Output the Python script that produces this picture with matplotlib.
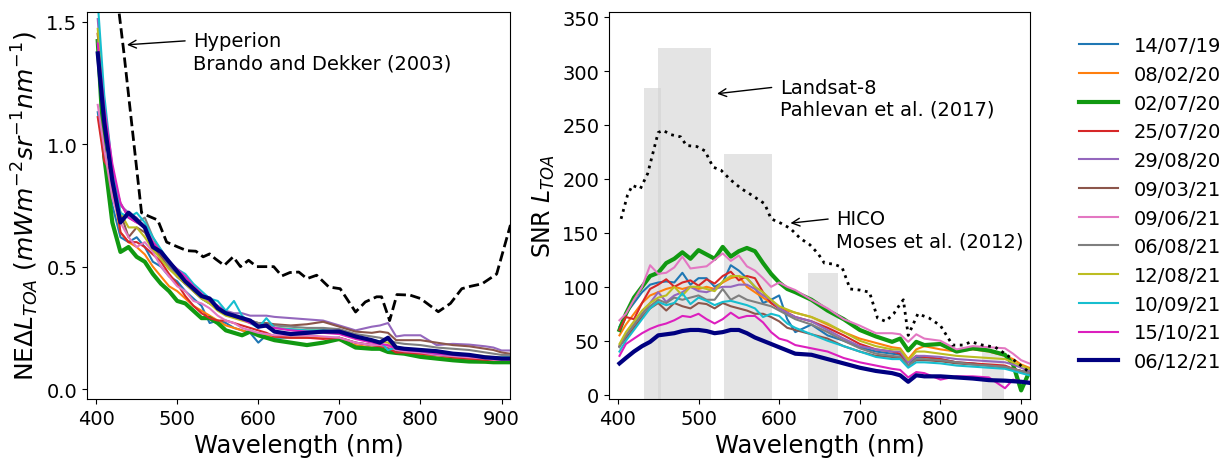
import matplotlib

matplotlib.use("Agg")
import matplotlib.pyplot as plt

# wavelength grid (nm) shared by all the acquisitions
wl = [402, 410, 420, 430, 440, 450, 460, 470, 480, 490, 500, 510, 520, 530, 540,
      550, 560, 570, 580, 590, 600, 610, 620, 640, 660, 680, 700, 720, 740, 750,
      760, 770, 780, 800, 820, 840, 860, 880, 890, 900, 910]

dates = ["14/07/19", "08/02/20", "02/07/20", "25/07/20", "29/08/20", "09/03/21",
         "09/06/21", "06/08/21", "12/08/21", "10/09/21", "15/10/21", "06/12/21"]
colors = ["#1f77b4", "#ff7f0e", "#119911", "#d62728", "#9467bd", "#8c564b",
          "#e377c2", "#7f7f7f", "#bcbd22", "#17becf", "#dc1fbe", "#000080"]
widths = [1.5, 1.5, 3.0, 1.5, 1.5, 1.5, 1.5, 1.5, 1.5, 1.5, 1.5, 3.0]

# NEdL_TOA per date
ne_blue = [1.13, 0.95, 0.75, 0.62, 0.60, 0.62, 0.58, 0.52, 0.50, 0.46, 0.44, 0.40, 0.37, 0.34, 0.27,
           0.28, 0.27, 0.25, 0.24, 0.23, 0.19, 0.22, 0.21, 0.21, 0.21, 0.21, 0.21, 0.19, 0.18, 0.175,
           0.17, 0.15, 0.15, 0.14, 0.14, 0.13, 0.125, 0.12, 0.12, 0.12, 0.12]
ne_orange = [1.45, 1.10, 0.82, 0.64, 0.60, 0.58, 0.55, 0.50, 0.46, 0.42, 0.40, 0.37, 0.34, 0.32, 0.30,
             0.28, 0.26, 0.25, 0.24, 0.23, 0.22, 0.22, 0.215, 0.21, 0.21, 0.21, 0.20, 0.18, 0.17, 0.17,
             0.16, 0.15, 0.15, 0.14, 0.13, 0.125, 0.12, 0.115, 0.115, 0.115, 0.115]
ne_green = [1.42, 0.95, 0.68, 0.56, 0.58, 0.54, 0.52, 0.47, 0.43, 0.40, 0.36, 0.35, 0.32, 0.29, 0.29,
            0.27, 0.24, 0.23, 0.22, 0.235, 0.22, 0.21, 0.20, 0.19, 0.18, 0.19, 0.205, 0.17, 0.165, 0.165,
            0.152, 0.148, 0.145, 0.132, 0.125, 0.118, 0.113, 0.112, 0.11, 0.11, 0.11]
ne_red = [1.11, 0.93, 0.88, 0.64, 0.60, 0.60, 0.58, 0.55, 0.52, 0.47, 0.43, 0.38, 0.34, 0.31, 0.29,
          0.28, 0.28, 0.27, 0.26, 0.25, 0.24, 0.23, 0.215, 0.21, 0.21, 0.205, 0.21, 0.19, 0.18, 0.175,
          0.17, 0.15, 0.15, 0.145, 0.14, 0.13, 0.125, 0.12, 0.12, 0.12, 0.12]
ne_purple = [1.51, 1.15, 0.88, 0.75, 0.72, 0.70, 0.66, 0.60, 0.55, 0.50, 0.46, 0.43, 0.41, 0.38, 0.36,
             0.34, 0.32, 0.31, 0.31, 0.30, 0.30, 0.30, 0.295, 0.29, 0.285, 0.28, 0.26, 0.24, 0.255, 0.26,
             0.27, 0.215, 0.22, 0.22, 0.18, 0.185, 0.182, 0.175, 0.17, 0.158, 0.158]
ne_brown = [1.45, 1.12, 0.85, 0.72, 0.62, 0.66, 0.64, 0.58, 0.54, 0.50, 0.46, 0.43, 0.40, 0.37, 0.35,
            0.33, 0.31, 0.30, 0.29, 0.28, 0.27, 0.27, 0.265, 0.26, 0.265, 0.275, 0.255, 0.235, 0.23, 0.235,
            0.23, 0.20, 0.20, 0.20, 0.19, 0.18, 0.175, 0.165, 0.16, 0.15, 0.145]
ne_pink = [1.16, 0.98, 0.78, 0.68, 0.62, 0.58, 0.60, 0.56, 0.50, 0.46, 0.42, 0.40, 0.36, 0.35, 0.33,
           0.30, 0.28, 0.27, 0.25, 0.24, 0.23, 0.225, 0.22, 0.22, 0.22, 0.215, 0.21, 0.19, 0.18, 0.18,
           0.175, 0.16, 0.155, 0.15, 0.14, 0.135, 0.13, 0.125, 0.12, 0.12, 0.12]
ne_gray = [1.42, 1.12, 0.88, 0.76, 0.70, 0.68, 0.70, 0.62, 0.56, 0.50, 0.46, 0.43, 0.40, 0.37, 0.35,
           0.33, 0.31, 0.30, 0.29, 0.28, 0.27, 0.265, 0.26, 0.255, 0.25, 0.25, 0.245, 0.225, 0.215, 0.21,
           0.20, 0.19, 0.185, 0.18, 0.17, 0.165, 0.16, 0.15, 0.145, 0.14, 0.14]
ne_olive = [1.47, 1.15, 0.86, 0.72, 0.66, 0.66, 0.62, 0.57, 0.53, 0.49, 0.46, 0.43, 0.40, 0.37, 0.35,
            0.32, 0.30, 0.29, 0.28, 0.27, 0.26, 0.255, 0.25, 0.245, 0.24, 0.24, 0.235, 0.215, 0.20, 0.195,
            0.19, 0.17, 0.165, 0.16, 0.15, 0.145, 0.14, 0.135, 0.13, 0.13, 0.13]
ne_cyan = [1.58, 1.20, 0.90, 0.72, 0.70, 0.72, 0.68, 0.62, 0.57, 0.52, 0.49, 0.47, 0.43, 0.40, 0.37,
           0.36, 0.32, 0.36, 0.30, 0.27, 0.25, 0.29, 0.25, 0.245, 0.24, 0.24, 0.235, 0.21, 0.20, 0.195,
           0.16, 0.17, 0.165, 0.155, 0.145, 0.14, 0.135, 0.13, 0.13, 0.13, 0.13]
ne_magenta = [1.41, 1.15, 0.92, 0.76, 0.70, 0.68, 0.66, 0.60, 0.56, 0.52, 0.49, 0.46, 0.42, 0.39, 0.36,
              0.34, 0.31, 0.30, 0.285, 0.27, 0.26, 0.255, 0.25, 0.24, 0.235, 0.23, 0.225, 0.205, 0.19, 0.185,
              0.18, 0.165, 0.16, 0.155, 0.145, 0.14, 0.135, 0.13, 0.125, 0.125, 0.125]
ne_navy = [1.37, 1.09, 0.85, 0.68, 0.72, 0.69, 0.66, 0.58, 0.56, 0.52, 0.48, 0.44, 0.41, 0.38, 0.37,
           0.33, 0.31, 0.30, 0.29, 0.28, 0.255, 0.26, 0.235, 0.225, 0.23, 0.235, 0.235, 0.215, 0.20, 0.19,
           0.21, 0.17, 0.165, 0.16, 0.155, 0.145, 0.14, 0.13, 0.128, 0.125, 0.125]

# SNR L_TOA per date
snr_blue = [63, 75, 85, 95, 102, 104, 105, 104, 113, 102, 108, 108, 100, 104, 120, 115, 108, 100, 85, 88,
            92, 70, 58, 65, 55, 50, 44, 40, 38, 37, 27, 35, 35, 33, 30, 29, 27, 26, 24, 22, 20]
snr_orange = [55, 65, 75, 85, 92, 95, 98, 100, 98, 100, 98, 100, 98, 104, 108, 110, 100, 95, 90, 85,
              80, 78, 76, 72, 65, 58, 52, 48, 44, 43, 33, 42, 45, 42, 40, 42, 40, 36, 33, 28, 25]
snr_green = [60, 75, 90, 100, 110, 113, 122, 126, 132, 126, 134, 130, 126, 137, 128, 133, 136, 133, 122, 112,
             104, 98, 95, 88, 78, 70, 60, 54, 49, 52, 41, 49, 46, 47, 40, 43, 41, 37, 28, 4, 21]
snr_red = [60, 72, 70, 85, 98, 102, 107, 100, 104, 106, 101, 107, 103, 110, 114, 106, 110, 108, 95, 85,
           80, 76, 72, 68, 62, 55, 47, 42, 40, 38, 30, 36, 35, 33, 30, 29, 28, 27, 24, 22, 20]
snr_purple = [45, 55, 65, 75, 85, 95, 86, 92, 95, 100, 96, 95, 98, 100, 100, 102, 102, 98, 92, 88,
              80, 76, 72, 68, 60, 52, 45, 42, 40, 40, 30, 36, 36, 35, 33, 32, 31, 30, 28, 25, 22]
snr_brown = [45, 52, 62, 72, 80, 85, 78, 85, 82, 80, 85, 84, 80, 85, 82, 80, 78, 75, 75, 72,
             68, 62, 60, 56, 52, 45, 40, 36, 35, 34, 27, 32, 32, 31, 29, 28, 27, 25, 23, 21, 20]
snr_pink = [69, 75, 88, 100, 120, 112, 113, 118, 128, 117, 118, 119, 125, 131, 124, 129, 119, 115, 108, 100,
            104, 100, 97, 88, 80, 70, 64, 57, 57, 56, 49, 56, 52, 50, 42, 45, 44, 43, 38, 32, 29]
snr_gray = [44, 55, 65, 75, 82, 88, 85, 90, 88, 90, 92, 88, 88, 98, 88, 92, 88, 86, 84, 82,
            78, 74, 70, 65, 58, 50, 43, 38, 36, 35, 27, 33, 33, 32, 30, 28, 27, 26, 24, 22, 20]
snr_olive = [47, 58, 68, 78, 85, 90, 92, 100, 92, 100, 100, 98, 96, 105, 110, 110, 108, 100, 95, 88,
             82, 79, 76, 72, 66, 58, 50, 45, 42, 42, 32, 40, 40, 38, 36, 35, 34, 33, 30, 27, 24]
snr_cyan = [40, 50, 60, 70, 80, 86, 83, 85, 94, 84, 90, 87, 83, 86, 87, 85, 83, 80, 72, 75,
            73, 66, 62, 56, 50, 45, 40, 35, 33, 33, 25, 30, 30, 29, 27, 26, 25, 24, 22, 20, 18]
snr_magenta = [36, 47, 52, 57, 61, 64, 66, 69, 73, 72, 75, 70, 66, 70, 76, 71, 73, 73, 67, 58,
               52, 50, 46, 43, 40, 34, 30, 27, 24, 23, 16, 21, 20, 14, 17, 17, 16, 6, 14, 12, 12]
snr_navy = [29, 34, 40, 45, 49, 55, 56, 57, 59, 60, 60, 59, 57, 58, 60, 60, 57, 53, 50, 47,
            44, 41, 38, 37, 33, 29, 25, 22, 20, 18, 12, 18, 17, 17, 16, 15, 13.5, 13, 12.5, 12, 11]

ne_series = [ne_blue, ne_orange, ne_green, ne_red, ne_purple, ne_brown, ne_pink,
             ne_gray, ne_olive, ne_cyan, ne_magenta, ne_navy]
snr_series = [snr_blue, snr_orange, snr_green, snr_red, snr_purple, snr_brown, snr_pink,
              snr_gray, snr_olive, snr_cyan, snr_magenta, snr_navy]

# Hyperion NEdL (Brando and Dekker 2003)
hyp_wl = [426, 434, 445, 456, 462, 476, 487, 501, 512, 523, 532, 540, 547, 558, 569, 578, 588, 598,
          619, 629, 639, 650, 660, 672, 687, 701, 720, 732, 746, 752, 762, 771, 787, 800, 822, 837,
          851, 862, 876, 894, 911]
hyp = [1.60, 1.38, 1.05, 0.72, 0.71, 0.69, 0.60, 0.58, 0.565, 0.563, 0.54, 0.552, 0.532, 0.505, 0.54,
       0.50, 0.526, 0.50, 0.50, 0.462, 0.476, 0.478, 0.451, 0.465, 0.417, 0.41, 0.315, 0.356, 0.377,
       0.377, 0.28, 0.386, 0.384, 0.37, 0.316, 0.35, 0.41, 0.42, 0.43, 0.47, 0.67]

# HICO SNR (Moses et al. 2012)
hico_wl = [404, 412, 418, 428, 437, 450, 456, 466, 478, 485, 498, 508, 518, 528, 540, 553, 566, 582,
           590, 602, 614, 626, 638, 648, 656, 668, 678, 688, 700, 712, 722, 732, 742, 750, 754, 760,
           772, 786, 800, 815, 828, 838, 852, 868, 880, 893, 908]
hico = [163, 185, 194, 191, 205, 243, 245, 241, 239, 231, 230, 226, 211, 208, 199, 191, 185, 177,
        163, 159, 154, 145, 139, 131, 122, 121, 118, 98, 97, 95, 71, 68, 75, 84, 88, 55,
        75, 71, 64, 46, 46, 49, 46, 44, 38, 31, 22]

# Landsat-8 OLI bands (Pahlevan et al. 2017)
l8_lo = [433, 450, 531, 636, 851]
l8_hi = [453, 515, 591, 673, 879]
l8_snr = [284, 321, 223, 113, 40]

fig = plt.figure(figsize=(12.3, 4.6), dpi=100)
ax1 = fig.add_axes([0.0709, 0.1304, 0.3441, 0.8420])
ax2 = fig.add_axes([0.4951, 0.1304, 0.3423, 0.8420])

for ys, c, lw, lab in zip(ne_series, colors, widths, dates):
    ax1.plot(wl, ys, color=c, lw=lw, label=lab)
ax1.plot(hyp_wl, hyp, "--", color="black", lw=2)
ax1.annotate("Hyperion\nBrando and Dekker (2003)", xy=(438, 1.405), xytext=(520, 1.46),
             fontsize=14, va="top", ha="left",
             arrowprops=dict(arrowstyle="->", color="black", lw=1, relpos=(0, 0.78),
                             shrinkA=4, shrinkB=0))
ax1.set_xlim(389, 911)
ax1.set_ylim(-0.04, 1.54)
ax1.set_xticks([400, 500, 600, 700, 800, 900])
ax1.set_yticks([0.0, 0.5, 1.0, 1.5])
ax1.set_xlabel("Wavelength (nm)", fontsize=17.5)
ax1.set_ylabel(r"NE$\Delta L_{TOA}$ $(mWm^{-2}sr^{-1}nm^{-1})$", fontsize=18)

bottom = -4
ax2.bar(l8_lo, [s - bottom for s in l8_snr], width=[h - l for l, h in zip(l8_lo, l8_hi)],
        bottom=bottom, align="edge", color="lightgrey", alpha=0.6, zorder=0)
for ys, c, lw in zip(snr_series, colors, widths):
    ax2.plot(wl, ys, color=c, lw=lw)
ax2.plot(hico_wl, hico, ":", color="black", lw=2)
ax2.annotate("Landsat-8\nPahlevan et al. (2017)", xy=(523, 279), xytext=(601, 294),
             fontsize=14, va="top", ha="left",
             arrowprops=dict(arrowstyle="->", color="black", lw=1, relpos=(0, 0.78),
                             shrinkA=4, shrinkB=0))
ax2.annotate("HICO\nMoses et al. (2012)", xy=(614, 159), xytext=(671, 172),
             fontsize=14, va="top", ha="left",
             arrowprops=dict(arrowstyle="->", color="black", lw=1, relpos=(0, 0.78),
                             shrinkA=4, shrinkB=0))
ax2.set_xlim(389, 911)
ax2.set_ylim(bottom, 355)
ax2.set_xticks([400, 500, 600, 700, 800, 900])
ax2.set_yticks(range(0, 351, 50))
ax2.set_xlabel("Wavelength (nm)", fontsize=17.5)
ax2.set_ylabel(r"SNR $L_{TOA}$", fontsize=17)

for ax in (ax1, ax2):
    ax.tick_params(labelsize=14)

fig.legend(loc="center left", bbox_to_anchor=(0.863, 0.555), frameon=False, fontsize=14)
fig.savefig("out.png", dpi=100)
